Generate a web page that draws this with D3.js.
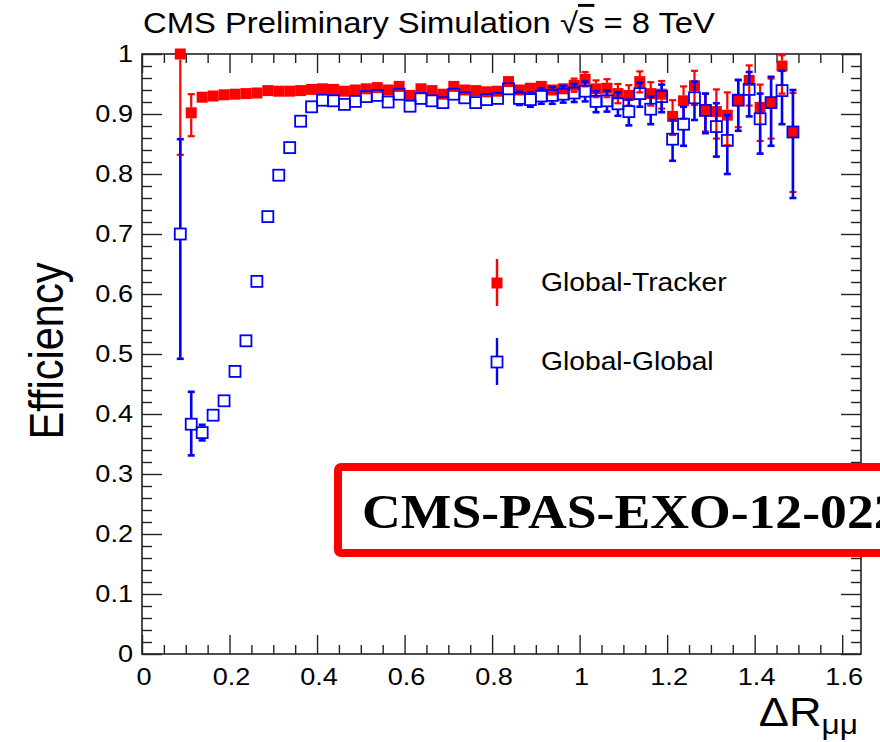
<!DOCTYPE html>
<html>
<head>
<meta charset="utf-8">
<script src="https://cdn.jsdelivr.net/npm/d3@7"></script>
<style>
  html, body { margin: 0; padding: 0; background: #fff; }
  svg { display: block; }
  text { fill: #000; }
</style>
</head>
<body>
<svg id="chart" width="880" height="742"></svg>
<script>
// ΔR(μμ) bin centres (bin width 0.025)
const dR = d3.range(57).map(i => +(0.0875 + 0.025 * i).toFixed(4));

// Global-Tracker efficiency with asymmetric errors
const gtEff = [1.000, 0.902, 0.928, 0.930, 0.932, 0.933, 0.934, 0.935, 0.939, 0.938,
               0.938, 0.939, 0.941, 0.942, 0.941, 0.938, 0.940, 0.942, 0.944, 0.940,
               0.946, 0.931, 0.942, 0.939, 0.933, 0.946, 0.940, 0.939, 0.937, 0.938,
               0.954, 0.940, 0.943, 0.946, 0.940, 0.942, 0.948, 0.958, 0.942, 0.943,
               0.934, 0.931, 0.954, 0.934, 0.933, 0.896, 0.922, 0.947, 0.906, 0.904,
               0.898, 0.923, 0.956, 0.911, 0.919, 0.980, 0.870];
const gtErrLo = [0.168, 0.039, 0.004, 0.004, 0.004, 0.004, 0.004, 0.004, 0.004, 0.004,
                 0.004, 0.004, 0.004, 0.004, 0.004, 0.004, 0.004, 0.004, 0.004, 0.004,
                 0.004, 0.004, 0.004, 0.005, 0.005, 0.005, 0.005, 0.005, 0.005, 0.005,
                 0.006, 0.007, 0.008, 0.009, 0.010, 0.010, 0.011, 0.012, 0.014, 0.015,
                 0.016, 0.017, 0.018, 0.020, 0.024, 0.031, 0.030, 0.032, 0.035, 0.045,
                 0.050, 0.045, 0.042, 0.056, 0.060, 0.046, 0.100];
const gtErrHi = [0.000, 0.031, 0.004, 0.004, 0.004, 0.004, 0.004, 0.004, 0.004, 0.004,
                 0.004, 0.004, 0.004, 0.004, 0.004, 0.004, 0.004, 0.004, 0.004, 0.004,
                 0.004, 0.004, 0.004, 0.005, 0.005, 0.005, 0.005, 0.005, 0.005, 0.005,
                 0.006, 0.007, 0.008, 0.009, 0.010, 0.010, 0.011, 0.012, 0.014, 0.015,
                 0.016, 0.017, 0.017, 0.019, 0.022, 0.027, 0.024, 0.025, 0.028, 0.037,
                 0.038, 0.033, 0.025, 0.038, 0.040, 0.018, 0.065];

// Global-Global efficiency with asymmetric errors
const ggEff = [0.700, 0.383, 0.369, 0.398, 0.422, 0.471, 0.522, 0.621, 0.729, 0.798,
               0.844, 0.888, 0.912, 0.923, 0.922, 0.916, 0.921, 0.929, 0.931, 0.920,
               0.933, 0.913, 0.926, 0.922, 0.919, 0.933, 0.927, 0.919, 0.924, 0.926,
               0.942, 0.926, 0.924, 0.930, 0.931, 0.933, 0.935, 0.938, 0.921, 0.922,
               0.917, 0.904, 0.934, 0.908, 0.929, 0.858, 0.883, 0.927, 0.906, 0.879,
               0.856, 0.923, 0.941, 0.892, 0.919, 0.939, 0.870];
const ggErrLo = [0.208, 0.052, 0.013, 0.005, 0.005, 0.005, 0.005, 0.005, 0.005, 0.005,
                 0.005, 0.005, 0.005, 0.005, 0.005, 0.005, 0.005, 0.005, 0.005, 0.005,
                 0.005, 0.006, 0.006, 0.006, 0.006, 0.006, 0.006, 0.007, 0.007, 0.008,
                 0.009, 0.011, 0.012, 0.013, 0.014, 0.014, 0.015, 0.017, 0.018, 0.018,
                 0.020, 0.023, 0.022, 0.025, 0.026, 0.036, 0.036, 0.037, 0.038, 0.050,
                 0.056, 0.051, 0.045, 0.058, 0.072, 0.056, 0.110];
const ggErrHi = [0.158, 0.054, 0.013, 0.005, 0.005, 0.005, 0.005, 0.005, 0.005, 0.005,
                 0.005, 0.005, 0.005, 0.005, 0.005, 0.005, 0.005, 0.005, 0.005, 0.005,
                 0.005, 0.006, 0.006, 0.006, 0.006, 0.006, 0.006, 0.007, 0.007, 0.008,
                 0.009, 0.011, 0.012, 0.013, 0.014, 0.014, 0.015, 0.016, 0.017, 0.017,
                 0.019, 0.020, 0.018, 0.021, 0.020, 0.032, 0.029, 0.027, 0.028, 0.039,
                 0.042, 0.034, 0.029, 0.042, 0.043, 0.033, 0.070];

// Axis ticks
const xMajorTicks = [0, 0.2, 0.4, 0.6, 0.8, 1.0, 1.2, 1.4, 1.6];
const xTickLabels = ["0", "0.2", "0.4", "0.6", "0.8", "1", "1.2", "1.4", "1.6"];
const yMajorTicks = [0, 0.1, 0.2, 0.3, 0.4, 0.5, 0.6, 0.7, 0.8, 0.9, 1.0];
const yTickLabels = ["0", "0.1", "0.2", "0.3", "0.4", "0.5", "0.6", "0.7", "0.8", "0.9", "1"];

const seriesNames = ["Global-Tracker", "Global-Global"];

const RED = "#ff0000";
const BLUE = "#0000ff";
const SANS = "'Liberation Sans', Arial, Helvetica, sans-serif";
const SERIF = "'Liberation Serif', 'Times New Roman', serif";
const TEXT_SX = 1.13;   // horizontal glyph stretch used for all labels

const svg = d3.select("#chart");
const frame = { left: 142, right: 861, top: 54, bottom: 654 };

const x = d3.scaleLinear().domain([0, 1.643]).range([frame.left, frame.right]);
const y = d3.scaleLinear().domain([0, 1]).range([frame.bottom, frame.top]);

const xMinor = d3.range(0, 1.64, 0.05).map(v => +v.toFixed(2)).filter(v => !xMajorTicks.some(m => Math.abs(m - v) < 1e-6));
const yMinor = d3.range(0, 1.0001, 0.02).map(v => +v.toFixed(2)).filter(v => !yMajorTicks.some(m => Math.abs(m - v) < 1e-6));

// Stretch a text horizontally about its anchor point
function stretch(sel, ax, ay, sx = TEXT_SX) {
  sel.attr("transform", `translate(${ax},${ay}) scale(${sx},1) translate(${-ax},${-ay})`);
  return sel;
}

// Inward-pointing ticks on all four sides
function tickAxis(axisFn, scale, values, size, transform) {
  const g = svg.append("g").attr("transform", transform)
    .call(axisFn(scale).tickValues(values).tickSize(size).tickFormat(""));
  g.select(".domain").remove();
  g.selectAll(".tick line").attr("stroke", "#222").attr("stroke-width", 1.4);
  return g;
}
tickAxis(d3.axisBottom, x, xMajorTicks, -19, `translate(0,${frame.bottom})`);
tickAxis(d3.axisBottom, x, xMinor, -9, `translate(0,${frame.bottom})`);
tickAxis(d3.axisTop, x, xMajorTicks, -19, `translate(0,${frame.top})`);
tickAxis(d3.axisTop, x, xMinor, -9, `translate(0,${frame.top})`);
tickAxis(d3.axisLeft, y, yMajorTicks, -20, `translate(${frame.left},0)`);
tickAxis(d3.axisLeft, y, yMinor, -10, `translate(${frame.left},0)`);
tickAxis(d3.axisRight, y, yMajorTicks, -20, `translate(${frame.right},0)`);
tickAxis(d3.axisRight, y, yMinor, -10, `translate(${frame.right},0)`);

// Frame
svg.append("rect")
  .attr("x", frame.left).attr("y", frame.top)
  .attr("width", frame.right - frame.left).attr("height", frame.bottom - frame.top)
  .attr("fill", "none").attr("stroke", "#222").attr("stroke-width", 1.6);

// Tick labels
svg.append("g").selectAll("text").data(xMajorTicks).join("text")
  .style("font-family", SANS)
  .attr("x", d => x(d) + 2).attr("y", 685)
  .attr("text-anchor", "middle").attr("font-size", 24)
  .text((d, i) => xTickLabels[i])
  .each(function (d) { stretch(d3.select(this), x(d) + 2, 685); });
svg.append("g").selectAll("text").data(yMajorTicks).join("text")
  .style("font-family", SANS)
  .attr("x", 133).attr("y", d => y(d) + 8.5)
  .attr("text-anchor", "end").attr("font-size", 24)
  .text((d, i) => yTickLabels[i])
  .each(function (d) { stretch(d3.select(this), 133, y(d)); });

// Axis titles
svg.append("g").attr("transform", `translate(63,351) scale(${TEXT_SX + 0.05},1) rotate(-90)`)
  .append("text")
  .style("font-family", SANS)
  .attr("text-anchor", "middle").attr("font-size", 41.5)
  .text("Efficiency");
const xt = svg.append("text").style("font-family", SANS)
  .attr("x", 858).attr("y", 726).attr("text-anchor", "end").attr("font-size", 40);
xt.append("tspan").text("ΔR");
xt.append("tspan").attr("font-size", 28).attr("dy", 8).text("μμ");
stretch(xt, 858, 726);

// Title
const title = svg.append("text").style("font-family", SANS)
  .attr("x", 143).attr("y", 33).attr("font-size", 29);
title.append("tspan").text("CMS Preliminary Simulation √");
title.append("tspan").attr("text-decoration", "overline").text("s");
title.append("tspan").text(" = 8 TeV");
stretch(title, 143, 33);

// Error bars drawn outside the marker, with end caps
const half = 5.5;
function drawSeries(vals, lo, hi, color, lineW, open) {
  const g = svg.append("g");
  vals.forEach((v, i) => {
    const cx = x(dR[i]), cy = y(v);
    const yTop = y(v + hi[i]), yBot = y(v - lo[i]);
    const cap = 3.5;
    if (cy - yTop > half + 1) {
      g.append("line").attr("x1", cx).attr("x2", cx).attr("y1", yTop).attr("y2", cy - half)
        .attr("stroke", color).attr("stroke-width", lineW);
      g.append("line").attr("x1", cx - cap).attr("x2", cx + cap).attr("y1", yTop).attr("y2", yTop)
        .attr("stroke", color).attr("stroke-width", lineW);
    }
    if (yBot - cy > half + 1) {
      g.append("line").attr("x1", cx).attr("x2", cx).attr("y1", cy + half).attr("y2", yBot)
        .attr("stroke", color).attr("stroke-width", lineW);
      g.append("line").attr("x1", cx - cap).attr("x2", cx + cap).attr("y1", yBot).attr("y2", yBot)
        .attr("stroke", color).attr("stroke-width", lineW);
    }
  });
  g.selectAll("rect").data(vals).join("rect")
    .attr("x", (d, i) => x(dR[i]) - half).attr("y", d => y(d) - half)
    .attr("width", 2 * half).attr("height", 2 * half)
    .attr("fill", open ? "none" : color)
    .attr("stroke", open ? color : "none")
    .attr("stroke-width", open ? 1.8 : 0);
}
drawSeries(gtEff, gtErrLo, gtErrHi, RED, 2.2, false);
drawSeries(ggEff, ggErrLo, ggErrHi, BLUE, 2.6, true);

// Legend
const legend = svg.append("g");
[[RED, false, 283], [BLUE, true, 362]].forEach(([c, open, ly], k) => {
  legend.append("line").attr("x1", 497).attr("x2", 497).attr("y1", ly - 24).attr("y2", ly + 23)
    .attr("stroke", c).attr("stroke-width", 2.4);
  legend.append("rect").attr("x", 497 - half).attr("y", ly - half)
    .attr("width", 2 * half).attr("height", 2 * half)
    .attr("fill", open ? "#fff" : c).attr("stroke", open ? c : "none").attr("stroke-width", 1.8);
  const t = legend.append("text").style("font-family", SANS)
    .attr("x", 541).attr("y", ly + 8).attr("font-size", 25)
    .text(seriesNames[k]);
  stretch(t, 541, ly);
});

// Analysis tag box
svg.append("rect")
  .attr("x", 338).attr("y", 467).attr("width", 600).attr("height", 86).attr("rx", 3)
  .attr("fill", "#fff").attr("stroke", RED).attr("stroke-width", 8);
const tag = svg.append("text")
  .style("font-family", SERIF).style("font-weight", "bold")
  .attr("x", 362).attr("y", 528).attr("font-size", 47.5)
  .text("CMS-PAS-EXO-12-022");
stretch(tag, 362, 528);
</script>
</body>
</html>
